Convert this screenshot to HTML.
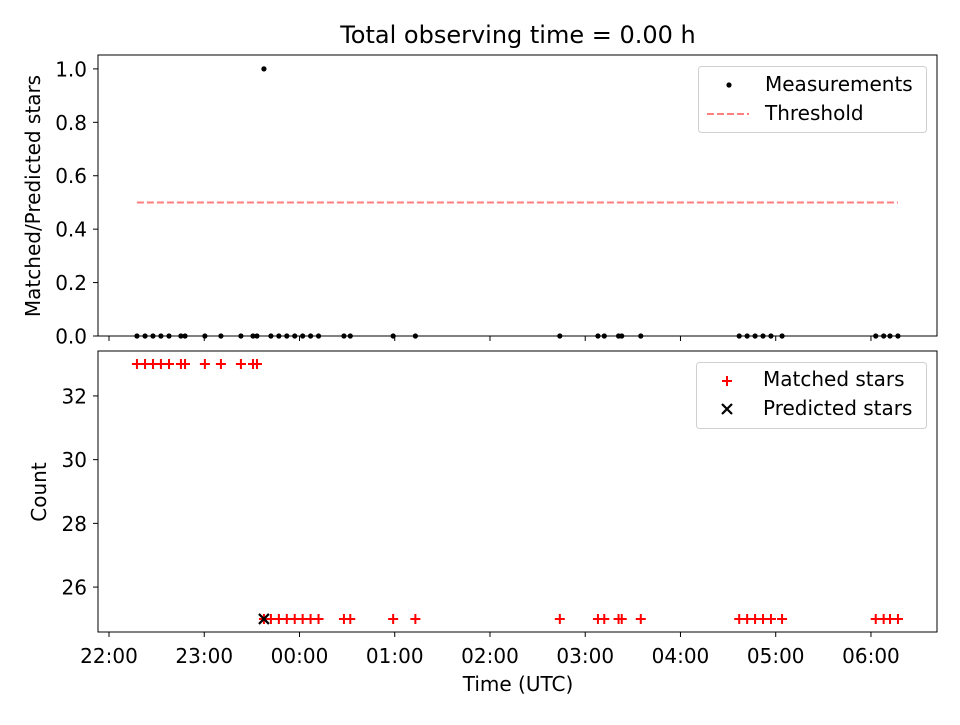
<!DOCTYPE html>
<html><head><meta charset="utf-8"><style>
body{margin:0;background:#fff;}
svg text{font-family:"DejaVu Sans","Liberation Sans",sans-serif;fill:#000;}
</style></head><body>
<svg id="c" width="960" height="720" xmlns="http://www.w3.org/2000/svg">
<rect width="960" height="720" fill="#fff"/>
<text x="518" y="43" font-size="24" text-anchor="middle">Total observing time = 0.00 h</text>
<g id="top"></g><g id="bot"></g>
</svg>
<script>
// minutes after 22:00 UTC
const times=[17.6,22.7,27.7,32.7,37.8,45.3,47.9,60.4,70.5,83.1,90.7,93.2,97.6,102,107,112,117,122,127,132,148,152,179,193,284,308,312,321,323,335,397,402,407,412,417,424,483,488,492,497];
const ratio=[0,0,0,0,0,0,0,0,0,0,0,0,1,0,0,0,0,0,0,0,0,0,0,0,0,0,0,0,0,0,0,0,0,0,0,0,0,0,0,0];
const matched=[33,33,33,33,33,33,33,33,33,33,33,33,25,25,25,25,25,25,25,25,25,25,25,25,25,25,25,25,25,25,25,25,25,25,25,25,25,25,25,25];
const predictedTimes=[97.6];
const predicted=[25];
const threshold=0.5;
const xTickLabels=["22:00","23:00","00:00","01:00","02:00","03:00","04:00","05:00","06:00"];
const topTicks=[0,0.2,0.4,0.6,0.8,1.0];
const botTicks=[26,28,30,32];

const NS="http://www.w3.org/2000/svg";
const L=98,R=937;
const xMin=-6.93,xMax=521.6;
const X=m=>L+(m-xMin)/(xMax-xMin)*(R-L);
function el(p,t,a){const e=document.createElementNS(NS,t);for(const k in a)e.setAttribute(k,a[k]);p.appendChild(e);return e;}
function axes(g,T,B,yMin,yMax,ticks,fmt,name){
  const Y=v=>B-(v-yMin)/(yMax-yMin)*(B-T);
  const fr=el(g,'rect',{x:L,y:T,width:R-L,height:B-T,fill:'none',stroke:'#000','stroke-width':1});
  
  
  ticks.forEach(v=>{const y=Y(v);
    el(g,'line',{x1:L-5,x2:L,y1:y,y2:y,stroke:'#000'});
    const t=el(g,'text',{x:L-11,y:y+7.5,'font-size':20,'text-anchor':'end'});t.textContent=fmt(v);
    
    
  });
  xTickLabels.forEach((s,i)=>{const x=X(i*60);el(g,'line',{x1:x,x2:x,y1:B,y2:B+5,stroke:'#000'});});
  return Y;
}
const gt=document.getElementById('top'),gb=document.getElementById('bot');
const Yt=axes(gt,55,336,0,1.052,topTicks,v=>v.toFixed(1),'top-axis');
const Yb=axes(gb,351,632,24.59,33.41,botTicks,v=>String(v),'bottom-axis');
const th=el(gt,'line',{x1:X(times[0]),x2:X(times[times.length-1]),y1:Yt(threshold),y2:Yt(threshold),stroke:'#ff7f7f','stroke-width':2,'stroke-dasharray':'7,3'});


times.forEach((m,i)=>{
  const d=el(gt,'circle',{cx:X(m),cy:Yt(ratio[i]),r:2.6,fill:'#000'});
  
  
  const x=X(m),y=Yb(matched[i]);
  const p=el(gb,'path',{d:`M${x-5},${y}H${x+5}M${x},${y-5}V${y+5}`,stroke:'#f00','stroke-width':2});
  
  
});
predictedTimes.forEach((m,i)=>{
  const x=X(m),y=Yb(predicted[i]);
  const p=el(gb,'path',{d:`M${x-5},${y-5}L${x+5},${y+5}M${x-5},${y+5}L${x+5},${y-5}`,stroke:'#000','stroke-width':2.2});
  
  
});
xTickLabels.forEach((s,i)=>{
  const t=el(gb,'text',{x:X(i*60),y:663,'font-size':20,'text-anchor':'middle'});t.textContent=s;
  
  
});
const svg=document.getElementById('c');
function txt(x,y,s,name,extra){const t=el(svg,'text',Object.assign({x:x,y:y,'font-size':20},extra||{}));t.textContent=s;
  
  return t;}
txt(518,691,'Time (UTC)','x-axis-title',{'text-anchor':'middle'});
txt(0,0,'Matched/Predicted stars','top-y-axis-title',{'text-anchor':'middle',transform:'translate(40,196) rotate(-90)'});
txt(0,0,'Count','bottom-y-axis-title',{'text-anchor':'middle',transform:'translate(46,492) rotate(-90)'});
const lg1=el(svg,'rect',{x:698.5,y:66.5,width:228,height:66,rx:3,fill:'#fff',stroke:'#d0d0d0'});


el(svg,'circle',{cx:729,cy:85,r:2.6,fill:'#000'});
txt(765,91,'Measurements','legend-measurements');
el(svg,'line',{x1:707,x2:749,y1:114,y2:114,stroke:'#ff7f7f','stroke-width':2,'stroke-dasharray':'7,3'});
txt(765,120,'Threshold','legend-threshold');
const lg2=el(svg,'rect',{x:696.5,y:362.5,width:230,height:66,rx:3,fill:'#fff',stroke:'#d0d0d0'});


el(svg,'path',{d:'M722,381H732M727,376V386',stroke:'#f00','stroke-width':2});
txt(763,386,'Matched stars','legend-matched-stars');
el(svg,'path',{d:'M722,404L732,414M722,414L732,404',stroke:'#000','stroke-width':2.2});
txt(763,415,'Predicted stars','legend-predicted-stars');
</script>
</body></html>
